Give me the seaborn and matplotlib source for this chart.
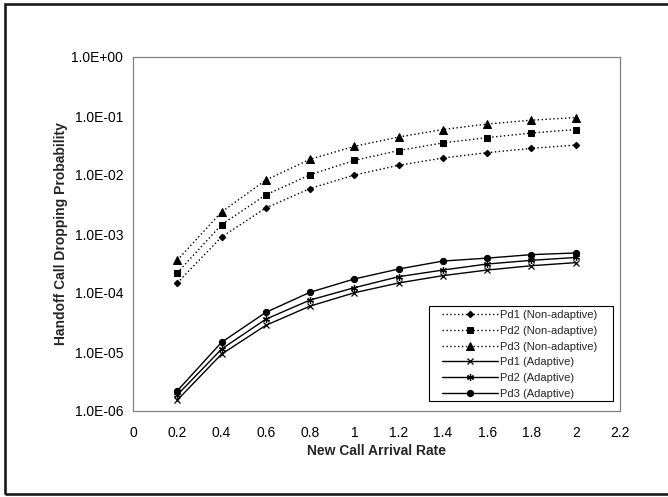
import numpy as np
import pandas as pd
import matplotlib
matplotlib.use("Agg")
import matplotlib.pyplot as plt
import matplotlib.ticker as mticker
from matplotlib.patches import Rectangle
import seaborn as sns

# ---- data ----
arrival_rate = [0.2, 0.4, 0.6, 0.8, 1.0, 1.2, 1.4, 1.6, 1.8, 2.0]
pd1_non = [1.48e-4, 8.9e-4, 2.76e-3, 5.9e-3, 1.0e-2, 1.46e-2, 1.94e-2, 2.39e-2, 2.83e-2, 3.22e-2]
pd2_non = [2.2e-4, 1.44e-3, 4.6e-3, 1.01e-2, 1.77e-2, 2.6e-2, 3.5e-2, 4.3e-2, 5.15e-2, 5.9e-2]
pd3_non = [3.6e-4, 2.36e-3, 8.2e-3, 1.85e-2, 3.06e-2, 4.4e-2, 5.9e-2, 7.3e-2, 8.5e-2, 9.4e-2]
pd1_ad = [1.53e-6, 9.2e-6, 2.83e-5, 6.0e-5, 1.01e-4, 1.48e-4, 1.97e-4, 2.45e-4, 2.9e-4, 3.27e-4]
pd2_ad = [1.87e-6, 1.12e-5, 3.6e-5, 7.6e-5, 1.23e-4, 1.89e-4, 2.45e-4, 3.1e-4, 3.58e-4, 4.0e-4]
pd3_ad = [2.2e-6, 1.46e-5, 4.7e-5, 1.03e-4, 1.73e-4, 2.55e-4, 3.48e-4, 3.9e-4, 4.47e-4, 4.77e-4]

series_labels = ["Pd1 (Non-adaptive)", "Pd2 (Non-adaptive)", "Pd3 (Non-adaptive)",
                 "Pd1 (Adaptive)", "Pd2 (Adaptive)", "Pd3 (Adaptive)"]
x_ticks = [0, 0.2, 0.4, 0.6, 0.8, 1.0, 1.2, 1.4, 1.6, 1.8, 2.0, 2.2]
y_ticks = [1e-6, 1e-5, 1e-4, 1e-3, 1e-2, 1e-1, 1e0]
x_title = "New Call Arrival Rate"
y_title = "Handoff Call Dropping Probability"

# ---- style ----
sns.set_style("white")
plt.rcParams['font.family'] = ['Liberation Sans', 'DejaVu Sans']

W, H = 668, 497
fig = plt.figure(figsize=(W / 100, H / 100), dpi=100)
ax = fig.add_axes([133/W, 1 - 411/H, (620-133)/W, (411-57)/H])

styles = [
    dict(marker='D', markersize=3.3, linestyle=(0, (1, 1.8)), linewidth=1.0),
    dict(marker='s', markersize=4.2, linestyle=(0, (1, 1.8)), linewidth=1.0),
    dict(marker='^', markersize=5.2, linestyle=(0, (1, 1.8)), linewidth=1.0),
    dict(marker='x', markersize=4.5, markeredgewidth=0.9, linestyle='-', linewidth=1.0),
    dict(marker=(6, 2, 0), markersize=5.0, markeredgewidth=0.9, linestyle='-', linewidth=1.0),
    dict(marker='o', markersize=4.5, linestyle='-', linewidth=1.0),
]
all_series = [pd1_non, pd2_non, pd3_non, pd1_ad, pd2_ad, pd3_ad]

for vals, lab, st in zip(all_series, series_labels, styles):
    df = pd.DataFrame({"x": arrival_rate, "y": vals})
    sns.lineplot(data=df, x="x", y="y", ax=ax, color="black", label=lab,
                 markeredgecolor="black", markerfacecolor="black", **st)

ax.set_yscale("log")
ax.set_xlim(0, 2.2)
ax.set_ylim(1e-6, 1)
ax.set_xticks(x_ticks)
ax.set_xticklabels([f"{v:g}" for v in x_ticks])
ax.set_yticks(y_ticks)
ax.set_yticklabels([f"{v:.1E}" for v in y_ticks])
ax.yaxis.set_minor_locator(mticker.NullLocator())
ax.tick_params(axis='both', which='major', direction='out', length=4, width=0.8,
               color='#808080', labelsize=10, labelcolor='black')
ax.tick_params(axis='y', pad=3)
ax.tick_params(axis='x', pad=7)

for sp in ax.spines.values():
    sp.set_visible(True)
    sp.set_color('#808080')
    sp.set_linewidth(0.9)

ax.set_xlabel(x_title, fontsize=10, fontweight='bold', labelpad=3)
ax.set_ylabel(y_title, fontsize=10, fontweight='bold', labelpad=2.5)

# legend (Excel-style padding: frame drawn separately, under the legend)
leg = ax.legend(loc='upper left', bbox_to_anchor=(442/W, 1 - 310/H),
                bbox_transform=fig.transFigure, borderaxespad=0, borderpad=0,
                fontsize=8, frameon=False, handlelength=5.0, handletextpad=0.2,
                labelspacing=0.52)
leg.set_zorder(6)
frame = Rectangle((429/W, 1 - 401/H), (613-429)/W, (401-306)/H,
                  transform=fig.transFigure, facecolor='white',
                  edgecolor='black', linewidth=0.8, zorder=5, clip_on=False)
ax.add_artist(frame)

# outer frame around the chart
fig.patches.append(Rectangle((5/W, 1 - 494/H), 700/W, (494-4)/H,
                             transform=fig.transFigure, fill=False,
                             edgecolor='#1a1a1a', linewidth=1.9, clip_on=False))

fig.savefig("out.png", dpi=100)
